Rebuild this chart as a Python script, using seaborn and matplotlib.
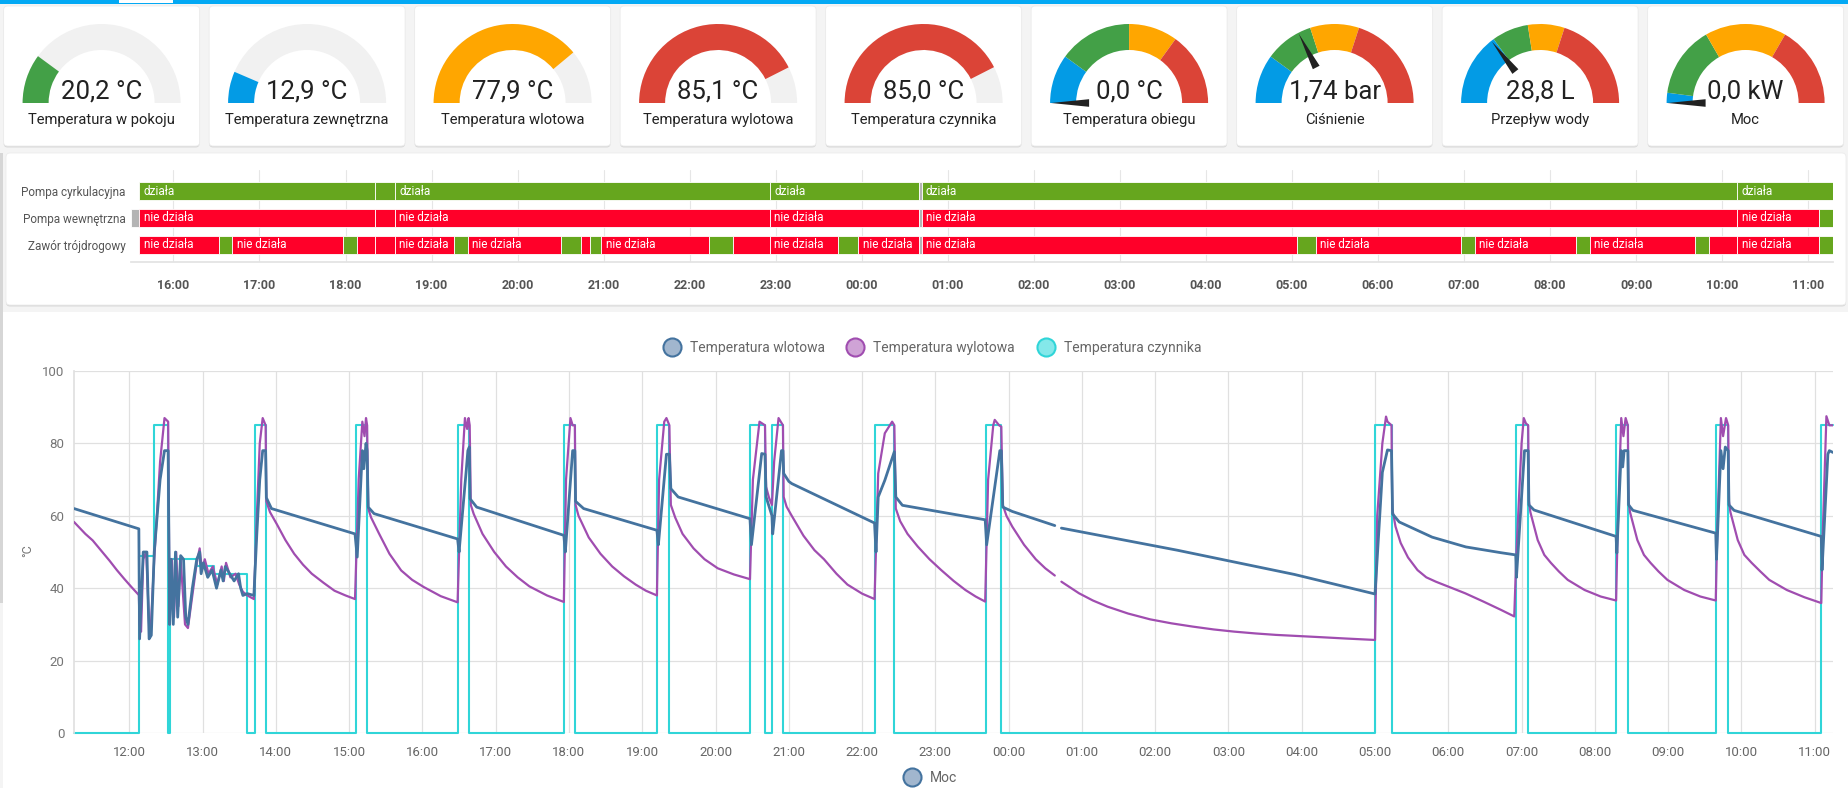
import numpy as np
import pandas as pd
import matplotlib.pyplot as plt
import seaborn as sns
from matplotlib.patches import Wedge, Polygon, FancyBboxPatch, Rectangle
from matplotlib.lines import Line2D

nan = np.nan

# ---- gauge cards ----
gauge_titles = ["Temperatura w pokoju", "Temperatura zewnętrzna", "Temperatura wlotowa",
                "Temperatura wylotowa", "Temperatura czynnika", "Temperatura obiegu",
                "Ciśnienie", "Przepływ wody", "Moc"]
gauge_labels = ["20,2 °C", "12,9 °C", "77,9 °C", "85,1 °C", "85,0 °C", "0,0 °C",
                "1,74 bar", "28,8 L", "0,0 kW"]
gauge_values = [20.2, 12.9, 77.9, 85.1, 85.0, 0.0, 1.74, 28.8, 0.0]
gauge_max = [100, 100, 100, 100, 100, 100, 5, 100, 12]
gauge_fill = ["#43a047", "#039be5", "#ffa600", "#db4437", "#db4437", None, None, None, None]
obieg_bands = [0, 20, 50, 70]
cisnienie_bands = [0, 1, 2, 3]
przeplyw_bands = [0, 30, 45, 60]
moc_bands = [0, 0.5, 4, 8]
band_colors = ["#039be5", "#43a047", "#ffa600", "#db4437"]

# ---- timeline (hours from midnight of first day) ----
row_names = ["Pompa cyrkulacyjna", "Pompa wewnętrzna", "Zawór trójdrogowy"]
pompa_cyrk = [(15.603, 18.342, 1), (18.342, 18.575, 1), (18.575, 22.932, 1), (22.932, 24.665, 1),
              (24.665, 24.695, -1), (24.695, 34.178, 1), (34.178, 35.288, 1)]
pompa_wewn = [(15.507, 15.603, -1), (15.603, 18.342, 0), (18.342, 18.575, 0), (18.575, 22.932, 0),
              (22.932, 24.665, 0), (24.665, 24.695, -1), (24.695, 34.178, 0), (34.178, 35.123, 0),
              (35.123, 35.288, 1)]
zawor = [(15.603, 16.534, 0), (16.534, 16.685, 1), (16.685, 17.973, 0), (17.973, 18.137, 1),
         (18.137, 18.342, 0), (18.342, 18.575, 0), (18.575, 19.260, 0), (19.260, 19.425, 1),
         (19.425, 20.507, 0), (20.507, 20.740, 1), (20.740, 20.836, 0), (20.836, 20.973, 1),
         (20.973, 22.219, 0), (22.219, 22.507, 1), (22.507, 22.932, 0), (22.932, 23.726, 0),
         (23.726, 23.959, 1), (23.959, 24.665, 0), (24.665, 24.695, -1), (24.695, 29.055, 0),
         (29.055, 29.274, 1), (29.274, 30.959, 0), (30.959, 31.123, 1), (31.123, 32.301, 0),
         (32.301, 32.466, 1), (32.466, 33.685, 0), (33.685, 33.849, 1), (33.849, 34.178, 0),
         (34.178, 35.123, 0), (35.123, 35.288, 1)]
state_names = {1: "działa", 0: "nie działa", -1: ""}
state_colors = {1: "#66a61e", 0: "#ff0029", -1: "#b4b4b4"}
timeline_ticks = ["16:00", "17:00", "18:00", "19:00", "20:00", "21:00", "22:00", "23:00", "00:00",
                  "01:00", "02:00", "03:00", "04:00", "05:00", "06:00", "07:00", "08:00", "09:00",
                  "10:00", "11:00"]

# ---- temperature history: (hour, °C) ----
wlot_pts = [
    (11.245, 62.0), (12.13, 56.4),
    (12.14, 26), (12.19, 50), (12.24, 50), (12.27, 26), (12.30, 27), (12.34, 50), (12.42, 70),
    (12.48, 78), (12.53, 78), (12.55, 30), (12.57, 48), (12.60, 30), (12.63, 50), (12.66, 32),
    (12.70, 49), (12.74, 48), (12.77, 32), (12.80, 30), (12.86, 40), (12.92, 48), (12.96, 50),
    (12.98, 44), (13.01, 47), (13.07, 43), (13.13, 45), (13.19, 40), (13.25, 45), (13.28, 42),
    (13.31, 46), (13.37, 44), (13.43, 42), (13.49, 44), (13.52, 40), (13.55, 38), (13.61, 38.5),
    (13.70, 38), (13.74, 55), (13.78, 70), (13.82, 78), (13.86, 78),
    (13.87, 65), (13.94, 62), (15.08, 55.0),
    (15.11, 48.6), (15.18, 78), (15.20, 73), (15.23, 80), (15.245, 78),
    (15.26, 62.4), (15.34, 60.6), (16.48, 53.6),
    (16.50, 50), (16.60, 73), (16.62, 78), (16.64, 79),
    (16.65, 64.7), (16.74, 62.4), (17.93, 54.6),
    (17.95, 50), (18.05, 78), (18.08, 78),
    (18.09, 64), (18.20, 62), (19.20, 56),
    (19.22, 52), (19.33, 77), (19.37, 77),
    (19.39, 67.5), (19.49, 65.2), (20.47, 59.2),
    (20.49, 52), (20.63, 77.2), (20.675, 77), (20.69, 65.2), (20.77, 60),
    (20.78, 55), (20.90, 78), (20.92, 78),
    (20.93, 71.7), (21.00, 69.5), (21.04, 68.9), (22.17, 58.0),
    (22.19, 50), (22.22, 65.2), (22.31, 69.8), (22.44, 77.7),
    (22.46, 65.2), (22.55, 62.9), (23.68, 58.9),
    (23.70, 52), (23.88, 78), (23.90, 78),
    (23.92, 62.4), (24.05, 61.2), (24.63, 57.3), (24.67, nan),
    (24.72, 56.6), (26.30, 50.5), (27.90, 43.8), (29.00, 38.4),
    (29.02, 45), (29.10, 72), (29.17, 78.2), (29.225, 78),
    (29.24, 60.5), (29.33, 58.3), (29.78, 54.1), (30.24, 51.4), (30.72, 49.8), (30.92, 49.2),
    (30.93, 43), (31.04, 78), (31.09, 78),
    (31.10, 63), (31.17, 61.6), (32.29, 54.3),
    (32.30, 49.7), (32.36, 78), (32.38, 73.5), (32.40, 78), (32.45, 78),
    (32.46, 63), (32.52, 61.5), (33.65, 55.2),
    (33.66, 48), (33.72, 78), (33.75, 73), (33.78, 79), (33.82, 78),
    (33.83, 63), (33.90, 61.5), (35.09, 54.3),
    (35.10, 45), (35.18, 77), (35.20, 78), (35.25, 77.5),
]

wylot_pts = [
    (11.245, 58.3), (11.40, 55.0), (11.50, 53.2), (11.62, 50.3), (11.73, 47.6), (11.83, 45.0),
    (11.93, 42.6), (12.03, 40.3), (12.13, 38.1),
    (12.14, 30), (12.16, 28), (12.19, 48), (12.23, 50), (12.27, 30), (12.29, 28), (12.34, 48),
    (12.42, 75), (12.48, 87), (12.53, 86),
    (12.55, 30), (12.58, 48), (12.61, 32), (12.64, 50), (12.67, 35), (12.70, 48), (12.76, 30),
    (12.80, 29), (12.86, 38), (12.92, 47), (12.96, 51), (12.99, 45), (13.03, 48), (13.08, 44),
    (13.14, 46), (13.20, 41), (13.26, 46), (13.29, 42), (13.32, 47), (13.38, 43), (13.45, 44),
    (13.50, 41), (13.55, 39), (13.61, 38), (13.70, 37),
    (13.74, 60), (13.78, 80), (13.82, 87), (13.86, 85),
    (13.87, 64), (13.92, 61), (14.01, 57.8), (14.13, 53.3), (14.25, 49.5), (14.37, 46.5),
    (14.49, 44), (14.65, 41.5), (14.80, 39.3), (14.95, 38), (15.08, 37),
    (15.13, 70), (15.18, 86), (15.21, 82), (15.23, 87), (15.245, 85),
    (15.26, 62), (15.30, 59.5), (15.41, 55), (15.55, 49.5), (15.71, 44.9), (15.86, 42.3),
    (16.02, 40.3), (16.25, 37.8), (16.48, 36.1),
    (16.53, 70), (16.58, 87), (16.61, 84), (16.63, 87), (16.645, 85),
    (16.66, 63), (16.70, 60.5), (16.82, 55), (16.98, 50), (17.14, 46), (17.30, 43), (17.46, 40.5),
    (17.70, 38), (17.93, 36.2),
    (17.96, 70), (18.02, 87), (18.05, 85), (18.08, 85),
    (18.09, 63), (18.13, 60), (18.27, 54), (18.43, 49.5), (18.59, 46), (18.75, 43.3), (18.91, 41),
    (19.05, 39.3), (19.20, 38),
    (19.23, 70), (19.30, 86), (19.33, 87), (19.37, 85),
    (19.39, 63), (19.45, 59.5), (19.55, 55), (19.70, 51), (19.85, 48), (20.03, 45.5), (20.25, 43.8),
    (20.47, 42.5),
    (20.51, 70), (20.60, 86), (20.675, 85), (20.69, 68), (20.73, 65), (20.77, 63),
    (20.80, 75), (20.86, 87), (20.92, 85),
    (20.93, 65.2), (20.97, 62.5), (21.04, 60), (21.20, 54.5), (21.35, 50.5), (21.48, 48),
    (21.65, 44), (21.80, 41), (22.00, 38.5), (22.17, 37),
    (22.22, 71.7), (22.31, 82.8), (22.41, 86), (22.44, 85),
    (22.46, 62), (22.52, 58.5), (22.62, 55), (22.76, 51.5), (22.92, 48), (23.08, 45), (23.25, 42),
    (23.41, 39.5), (23.55, 37.7), (23.68, 36.3),
    (23.72, 70), (23.79, 85), (23.81, 86.5), (23.87, 85), (23.90, 84.6),
    (23.92, 63), (23.97, 60), (24.05, 57), (24.13, 54.5), (24.21, 52), (24.29, 50), (24.37, 48),
    (24.50, 45.5), (24.63, 43.5), (24.67, nan),
    (24.72, 41.8), (24.84, 40.2), (24.96, 38.6), (25.15, 36.6), (25.35, 34.9), (25.63, 33),
    (25.93, 31.4), (26.22, 30.3), (26.51, 29.4), (26.80, 28.6), (27.08, 28.0), (27.37, 27.5),
    (27.65, 27.1), (27.94, 26.8), (28.23, 26.5), (28.60, 26.1), (29.00, 25.7),
    (29.03, 60), (29.10, 80), (29.15, 87.4), (29.17, 86), (29.225, 85),
    (29.235, 62), (29.28, 57), (29.35, 52.5), (29.45, 48.5), (29.58, 45), (29.70, 43),
    (29.83, 41.8), (30.03, 40.2), (30.23, 38.6), (30.48, 36.3), (30.72, 34), (30.90, 32.2),
    (30.93, 50), (31.00, 80), (31.03, 87), (31.06, 85.5), (31.09, 85),
    (31.10, 64), (31.12, 61), (31.22, 53.3), (31.31, 49.2), (31.40, 47), (31.51, 44.6),
    (31.63, 42.3), (31.86, 39.5), (32.08, 37.7), (32.29, 36.6),
    (32.31, 55), (32.36, 87), (32.39, 82), (32.42, 87), (32.45, 85),
    (32.46, 64), (32.48, 61), (32.58, 53.3), (32.67, 49.2), (32.76, 47), (32.87, 44.6),
    (32.99, 42.3), (33.22, 39.5), (33.44, 37.7), (33.65, 36.6),
    (33.67, 55), (33.72, 87), (33.75, 82), (33.79, 87), (33.82, 85),
    (33.83, 64), (33.85, 61), (33.95, 53.3), (34.04, 49.2), (34.14, 47), (34.26, 44.6),
    (34.38, 42.3), (34.62, 39.5), (34.86, 37.5), (35.09, 35.9),
    (35.11, 55), (35.16, 87.5), (35.20, 85), (35.25, 85),
]

czyn_t = [11.245, 12.13, 12.34, 12.53, 12.56, 12.92, 13.16, 13.61, 13.72, 13.86, 15.10, 15.245,
          16.48, 16.64, 17.93, 18.08, 19.20, 19.37, 20.47, 20.67, 20.77, 20.92, 22.17, 22.44,
          23.69, 23.90, 29.00, 29.225, 30.92, 31.09, 32.29, 32.45, 33.65, 33.82, 35.09, 35.25]
czyn_v = [0, 49, 85, 0, 48, 46, 44, 0, 85, 0, 85, 0,
          85, 0, 85, 0, 85, 0, 85, 0, 85, 0, 85, 0,
          85, 0, 85, 0, 85, 0, 85, 0, 85, 0, 85, 85]

hour_ticks = ["12:00", "13:00", "14:00", "15:00", "16:00", "17:00", "18:00", "19:00", "20:00",
              "21:00", "22:00", "23:00", "00:00", "01:00", "02:00", "03:00", "04:00", "05:00",
              "06:00", "07:00", "08:00", "09:00", "10:00", "11:00"]

sns.set_theme(style="white")
plt.rcParams['font.family'] = ['Roboto', 'DejaVu Sans']

W, H = 1848, 788
fig = plt.figure(figsize=(W / 100, H / 100), dpi=100)
fig.patch.set_facecolor('#f4f4f4')

bg = fig.add_axes([0, 0, 1, 1], zorder=0)
bg.set_xlim(0, W)
bg.set_ylim(H, 0)
bg.axis('off')


def card(x0, y0, x1, y1):
    bg.add_patch(FancyBboxPatch((x0, y0 + 1.5), x1 - x0, y1 - y0, boxstyle='round,pad=0,rounding_size=4',
                                fc='#d9d9d9', ec='none'))
    bg.add_patch(FancyBboxPatch((x0, y0), x1 - x0, y1 - y0, boxstyle='round,pad=0,rounding_size=4',
                                fc='white', ec='#ececec', lw=0.6))


# top bar
bg.add_patch(Rectangle((0, 0), W, 4, fc='#03a9f4', ec='none'))
bg.add_patch(Rectangle((119, 0), 54, 2.5, fc='white', ec='none'))
bg.add_patch(Rectangle((0, 153), 3, 450, fc='#d6d6d6', ec='none'))

# gauges
bands_by_gauge = {5: obieg_bands, 6: cisnienie_bands, 7: przeplyw_bands, 8: moc_bands}
R, RW = 79, 26
for i in range(9):
    cx, cy = 101.6 + 205.5 * i, 103
    card(cx - 98, 6, cx + 98, 146)
    mx = gauge_max[i]
    frac = gauge_values[i] / mx
    if gauge_fill[i]:
        bg.add_patch(Wedge((cx, cy), R, 180, 360, width=RW, fc='#f1f1f1', ec='none'))
        bg.add_patch(Wedge((cx, cy), R, 180, 180 + 180 * frac, width=RW, fc=gauge_fill[i], ec='none'))
    else:
        edges = bands_by_gauge[i] + [mx]
        for k in range(4):
            bg.add_patch(Wedge((cx, cy), R, 180 + 180 * edges[k] / mx, 180 + 180 * edges[k + 1] / mx,
                               width=RW, fc=band_colors[k], ec='none'))
        a = np.deg2rad(180 + 180 * frac)
        d = np.array([np.cos(a), np.sin(a)])
        n = np.array([-np.sin(a), np.cos(a)])
        c = np.array([cx, cy])
        bg.add_patch(Polygon([c + 78 * d, c + 40 * d + 3.8 * n, c + 40 * d - 3.8 * n],
                             closed=True, fc='#212121', ec='none', zorder=3))
    bg.text(cx, 91, gauge_labels[i], ha='center', va='center', fontsize=18.5, color='#212121', zorder=4)
    bg.text(cx, 120, gauge_titles[i], ha='center', va='center', fontsize=10.6, color='#212121')

# timeline card and chart card
card(6, 153, 1846, 305)
bg.add_patch(Rectangle((3, 312), W - 3, H - 312, fc='white', ec='none'))

tl = fig.add_axes([131 / W, 1 - 262 / H, (1833 - 131) / W, 92 / H], zorder=1)
tl.set_facecolor('none')
for r, segs in enumerate([pompa_cyrk, pompa_wewn, zawor]):
    for s, e, st in segs:
        tl.barh(r, e - s, left=s, height=0.7, color=state_colors[st], edgecolor='white', linewidth=0.6, zorder=2)
        if e - s > 0.6 and st >= 0:
            tl.text(s + 0.05, r, state_names[st], color='white', fontsize=8.5, va='center', ha='left', zorder=3)
tl.set_xlim(15.507, 35.288)
tl.set_ylim(2.63, -0.778)
tl.set_xticks(np.arange(16, 36))
tl.set_xticklabels(timeline_ticks, fontsize=9, fontweight='bold', color='#555555')
tl.set_yticks([0, 1, 2])
tl.set_yticklabels(row_names, fontsize=8.5, color='#555555')
tl.tick_params(axis='y', length=0, pad=4)
tl.tick_params(axis='x', length=9, color='#e3e3e3', pad=3)
tl.grid(axis='x', color='#e6e6e6', lw=0.8)
tl.set_axisbelow(True)
for side in ['top', 'right', 'left']:
    tl.spines[side].set_visible(False)
tl.spines['bottom'].set_color('#e3e3e3')

# line chart
lc = fig.add_axes([74 / W, 1 - 733 / H, (1833 - 74) / W, (733 - 371) / H], zorder=1)
lc.set_facecolor('none')

wlot_t, wlot_v = zip(*wlot_pts)
wylot_t, wylot_v = zip(*wylot_pts)
series = [
    (czyn_t, czyn_v, '#30d5d8', 1.5, 2, 'steps-post'),
    (wylot_t, wylot_v, '#a04db0', 1.6, 3, 'default'),
    (wlot_t, wlot_v, '#44739f', 2.0, 4, 'default'),
]
for t, v, color, lw, z, ds in series:
    df = pd.DataFrame({'t': t, 'v': v})
    df['seg'] = df['v'].isna().cumsum()
    df = df.dropna()
    sns.lineplot(data=df, x='t', y='v', units='seg', estimator=None, sort=False,
                 color=color, lw=lw, ax=lc, zorder=z, drawstyle=ds, clip_on=(ds == 'default'))

lc.set_xlim(11.245, 35.25)
lc.set_ylim(0, 100)
lc.set_xticks(np.arange(12, 36))
lc.set_xticklabels(hour_ticks, fontsize=9.5, color='#666666')
lc.set_yticks(np.arange(0, 101, 20))
lc.set_yticklabels([str(v) for v in range(0, 101, 20)], fontsize=9.5, color='#757575')
lc.tick_params(length=0, pad=9)
lc.tick_params(axis='y', pad=7)
lc.grid(True, color='#e0e0e0', lw=0.9)
lc.set_axisbelow(True)
for side in ['top', 'right', 'bottom']:
    lc.spines[side].set_visible(False)
lc.spines['left'].set_color('#e0e0e0')
lc.set_xlabel('')
lc.set_ylabel('°C', fontsize=9, color='#757575')
lc.yaxis.set_label_coords(-40 / 1759, 0.503)

handles = [
    Line2D([], [], marker='o', ls='', ms=13, mfc='#a1b6ce', mec='#44739f', mew=1.5),
    Line2D([], [], marker='o', ls='', ms=13, mfc='#cfa3d6', mec='#a04db0', mew=1.5),
    Line2D([], [], marker='o', ls='', ms=13, mfc='#84e8ea', mec='#30d5d8', mew=1.5),
]
fig.legend(handles, ["Temperatura wlotowa", "Temperatura wylotowa", "Temperatura czynnika"],
           loc='center', bbox_to_anchor=(0.503, 1 - 348 / H), ncol=3, frameon=False,
           fontsize=10, labelcolor='#666666', handletextpad=0.3, columnspacing=1.2)
fig.legend([Line2D([], [], marker='o', ls='', ms=13, mfc='#a1b6ce', mec='#44739f', mew=1.5)], ["Moc"],
           loc='center', bbox_to_anchor=(0.502, 1 - 778 / H), frameon=False,
           fontsize=10, labelcolor='#666666', handletextpad=0.3)

fig.savefig('out.png', dpi=100, facecolor=fig.get_facecolor())
